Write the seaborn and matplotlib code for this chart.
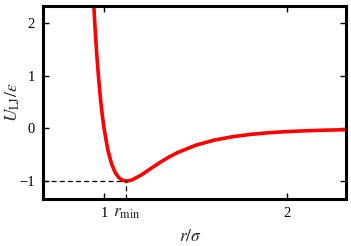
import numpy as np
import pandas as pd
import matplotlib
matplotlib.use("Agg")
import matplotlib.pyplot as plt
import seaborn as sns

# Valores (r/sigma, U/epsilon)
r_vals = [0.94, 0.95, 0.96, 0.97, 0.98, 0.99, 1.00, 1.02, 1.04, 1.06, 1.08,
          1.10, 1.1225, 1.15, 1.20, 1.25, 1.30, 1.35, 1.40, 1.50, 1.60,
          1.70, 1.80, 1.90, 2.00, 2.10, 2.20, 2.32]
u_vals = [2.607, 1.961, 1.418, 0.963, 0.582, 0.264, 0.0, -0.398, -0.663,
          -0.832, -0.932, -0.983, -1.0, -0.982, -0.891, -0.774, -0.657,
          -0.552, -0.461, -0.320, -0.224, -0.159, -0.114, -0.083, -0.0615,
          -0.0461, -0.0350, -0.0255]
r_min = 1.1225
u_min = -1.0
xticks = [1, 2]
yticks = [-1, 0, 1, 2]

df = pd.DataFrame({"r": r_vals, "U": u_vals})

sns.set_theme(style="ticks")
plt.rcParams["font.family"] = ["Liberation Serif", "DejaVu Serif"]
plt.rcParams["mathtext.fontset"] = "stix"

fig = plt.figure(figsize=(3.51, 2.46), dpi=100)
ax = fig.add_axes([0.1225, 0.191, 0.8633, 0.7846])

sns.lineplot(data=df, x="r", y="U", color="red", linewidth=2.6, ax=ax)

xmin, xmax = 0.667, 2.32
ymin, ymax = -1.34, 2.32
ax.plot([xmin, r_min], [u_min, u_min], color="black", lw=0.9, ls=(0, (4, 2.5)))
ax.plot([r_min, r_min], [ymin, u_min], color="black", lw=0.9, ls=(0, (4, 2.5)))

ax.set_xlim(xmin, xmax)
ax.set_ylim(ymin, ymax)
ax.set_xticks(xticks)
ax.set_yticks(yticks)
ax.tick_params(direction="in", length=4.5, width=1, top=True, right=True,
               labelsize=10.5, pad=6, colors="black")
for s in ax.spines.values():
    s.set_linewidth(2.2)
    s.set_color("black")

ax.text(r_min, -0.07, r"$r_\mathrm{min}$", transform=ax.get_xaxis_transform(),
        ha="center", va="center", fontsize=12.5)
ax.set_xlabel(r"$r/\sigma$", fontsize=12.5)
ax.set_ylabel(r"$U_\mathrm{LJ}/\varepsilon$", fontsize=12.5)
ax.xaxis.set_label_coords(0.485, -0.155)
ax.yaxis.set_label_coords(-0.068, 0.5)

fig.savefig("out.png", dpi=100)
